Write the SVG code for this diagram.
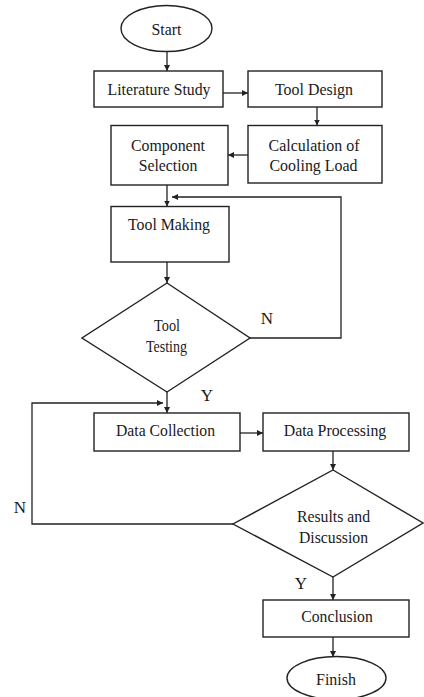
<svg xmlns="http://www.w3.org/2000/svg" width="424" height="697" viewBox="0 0 424 697">
<style>
.shape{fill:#fff;stroke:#222;stroke-width:1.4}
.t{font-family:"Liberation Serif","Times New Roman",serif;font-size:17px;fill:#1a1a1a;text-anchor:middle}
.s{font-size:16px}
.c{fill:none;stroke:#222;stroke-width:1.3}
</style>
<defs>
<marker id="ah" viewBox="0 0 10 10" refX="10" refY="5" markerWidth="6" markerHeight="6" markerUnits="userSpaceOnUse" orient="auto">
<path d="M0,0 L10,5 L0,10 Z" fill="#222"/>
</marker>
</defs>
<rect width="424" height="697" fill="#fff"/>
<g id="connectors">
<line class="c" x1="167" y1="52" x2="167" y2="71" marker-end="url(#ah)"/>
<line class="c" x1="223" y1="93" x2="248" y2="93" marker-end="url(#ah)"/>
<line class="c" x1="317" y1="107" x2="317" y2="125.5" marker-end="url(#ah)"/>
<line class="c" x1="248" y1="155" x2="228" y2="155" marker-end="url(#ah)"/>
<line class="c" x1="167" y1="185" x2="167" y2="206.5" marker-end="url(#ah)"/>
<polyline class="c" points="250,338 341,338 341,197 172,197" marker-end="url(#ah)"/>
<line class="c" x1="167" y1="262" x2="167" y2="283" marker-end="url(#ah)"/>
<line class="c" x1="167" y1="392" x2="167" y2="413" marker-end="url(#ah)"/>
<line class="c" x1="240" y1="433" x2="263" y2="433" marker-end="url(#ah)"/>
<line class="c" x1="333" y1="451" x2="333" y2="470" marker-end="url(#ah)"/>
<polyline class="c" points="233,524 32,524 32,403 163,403" marker-end="url(#ah)"/>
<line class="c" x1="333" y1="577" x2="333" y2="600" marker-end="url(#ah)"/>
<line class="c" x1="333" y1="637" x2="333" y2="657" marker-end="url(#ah)"/>
<text class="t" x="267" y="324">N</text>
<text class="t" x="207" y="401">Y</text>
<text class="t" x="20" y="513">N</text>
<text class="t" x="301" y="589">Y</text>
</g>
<g id="start">
<ellipse class="shape" cx="166.5" cy="28.5" rx="45.5" ry="23"/>
<text class="t" x="166.5" y="34.5" textLength="30" lengthAdjust="spacingAndGlyphs">Start</text>
</g>
<g id="literature-study">
<rect class="shape" x="94" y="71" width="129" height="36"/>
<text class="t" x="159" y="94.5" textLength="103" lengthAdjust="spacingAndGlyphs">Literature Study</text>
</g>
<g id="tool-design">
<rect class="shape" x="248" y="71" width="134" height="36"/>
<text class="t" x="314" y="94.5" textLength="78" lengthAdjust="spacingAndGlyphs">Tool Design</text>
</g>
<g id="calculation">
<rect class="shape" x="248" y="125.5" width="134" height="57.5"/>
<text class="t" x="314" y="150.5" textLength="91" lengthAdjust="spacingAndGlyphs">Calculation of</text>
<text class="t" x="313.5" y="170.5" textLength="88" lengthAdjust="spacingAndGlyphs">Cooling Load</text>
</g>
<g id="component-selection">
<rect class="shape" x="111" y="125.5" width="117" height="59.5"/>
<text class="t" x="168" y="150.5" textLength="74" lengthAdjust="spacingAndGlyphs">Component</text>
<text class="t" x="168" y="170.5" textLength="58.5" lengthAdjust="spacingAndGlyphs">Selection</text>
</g>
<g id="tool-making">
<rect class="shape" x="111" y="206.5" width="118" height="55.5"/>
<text class="t" x="169" y="229.5" textLength="82" lengthAdjust="spacingAndGlyphs">Tool Making</text>
</g>
<g id="tool-testing">
<polygon class="shape" points="167,283 250,338 167,392 82,338"/>
<text class="t s" x="167" y="331" textLength="26" lengthAdjust="spacingAndGlyphs">Tool</text>
<text class="t s" x="166.5" y="351.5" textLength="41" lengthAdjust="spacingAndGlyphs">Testing</text>
</g>
<g id="data-collection">
<rect class="shape" x="94" y="413" width="146" height="38"/>
<text class="t" x="165.5" y="436" textLength="99" lengthAdjust="spacingAndGlyphs">Data Collection</text>
</g>
<g id="data-processing">
<rect class="shape" x="263" y="413" width="146" height="38"/>
<text class="t" x="335" y="436" textLength="102.5" lengthAdjust="spacingAndGlyphs">Data Processing</text>
</g>
<g id="results-discussion">
<polygon class="shape" points="333,470 423,523 333,577 233,524"/>
<text class="t" x="333.5" y="521.5" textLength="73" lengthAdjust="spacingAndGlyphs">Results and</text>
<text class="t" x="333.5" y="543" textLength="69" lengthAdjust="spacingAndGlyphs">Discussion</text>
</g>
<g id="conclusion">
<rect class="shape" x="263" y="600" width="146" height="37"/>
<text class="t" x="337" y="622" textLength="71.5" lengthAdjust="spacingAndGlyphs">Conclusion</text>
</g>
<g id="finish">
<ellipse class="shape" cx="336.5" cy="678" rx="49.5" ry="21.5"/>
<text class="t" x="336" y="684.5" textLength="40" lengthAdjust="spacingAndGlyphs">Finish</text>
</g>
</svg>
